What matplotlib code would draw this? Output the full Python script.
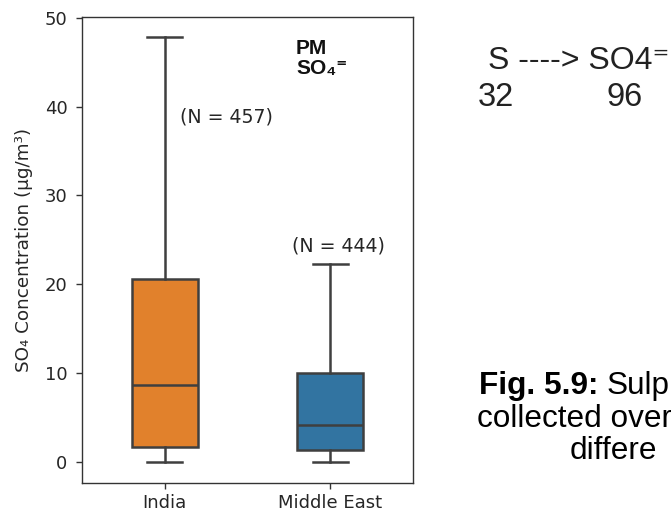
import matplotlib
matplotlib.use("Agg")
import matplotlib.pyplot as plt

categories = ["India", "Middle East"]
whislo = [0.0, 0.0]
q1 = [1.6, 1.3]
med = [8.6, 4.15]
q3 = [20.6, 10.0]
whishi = [47.9, 22.3]
counts = ["(N = 457)", "(N = 444)"]
colors = ["#e1812c", "#3274a1"]

fig = plt.figure(figsize=(6.71, 5.15), dpi=100)
ax = fig.add_axes([82/671, 1-483/515, (413-82)/671, (483-17)/515])

stats = []
for i, c in enumerate(categories):
    stats.append(dict(label=c, whislo=whislo[i], q1=q1[i], med=med[i],
                      q3=q3[i], whishi=whishi[i], fliers=[]))
lc = "#3f3f3f"
lw = 1.8
bp = ax.bxp(stats, positions=[0, 1], widths=0.4, patch_artist=True,
            showfliers=False,
            boxprops=dict(edgecolor=lc, linewidth=lw),
            medianprops=dict(color=lc, linewidth=lw),
            whiskerprops=dict(color=lc, linewidth=lw),
            capprops=dict(color=lc, linewidth=lw),
            capwidths=0.21)
for patch, col in zip(bp["boxes"], colors):
    patch.set_facecolor(col)

ax.set_xlim(-0.5, 1.5)
ax.set_ylim(-2.4, 50.1)
ax.set_yticks([0, 10, 20, 30, 40, 50])
ax.set_xticks([0, 1])
ax.set_xticklabels(categories)
ax.tick_params(labelsize=13, color="#333333", labelcolor="#262626",
               length=4.5, width=1.0)
ax.tick_params(axis="y", pad=6)
for s in ax.spines.values():
    s.set_color("#333333")
    s.set_linewidth(1.0)
ax.set_ylabel("SO\u2084 Concentration (\u00b5g/m\u00b3)", fontsize=13.2, color="#262626")
ax.yaxis.set_label_coords(-0.148, 0.5)

ax.text(0.09, 38.8, counts[0], fontsize=13.7, color="#262626", va="center")
ax.text(0.77, 24.3, counts[1], fontsize=13.7, color="#262626", va="center")

fam = ["Liberation Sans", "DejaVu Sans"]
fig.text(296/671, 1-48.4/515, "PM", fontsize=15, fontweight="bold",
         family=fam, va="center", ha="left", color="#111111")
fig.text(296/671, 1-68.8/515, "SO\u2084\u207c", fontsize=15, fontweight="bold",
         family=fam, va="center", ha="left", color="#111111")

fig.text(488/671, 1-61/515, "S ----> SO4\u207c", fontsize=23.0, family=fam,
         va="center", ha="left", color="#222222")
fig.text(478/671, 1-98/515, "32", fontsize=23.5, family=fam,
         va="center", ha="left", color="#222222")
fig.text(607/671, 1-98/515, "96", fontsize=23.5, family=fam,
         va="center", ha="left", color="#222222")

fig.text(479/671, 1-386/515, "Fig. 5.9:", fontsize=22.7, family=fam,
         fontweight="bold", va="center", ha="left")
fig.text(607/671, 1-386/515, "Sulp", fontsize=22.7, family=fam,
         va="center", ha="left")
fig.text(477/671, 1-419/515, "collected over", fontsize=22.7, family=fam,
         va="center", ha="left")
fig.text(570/671, 1-451/515, "differe", fontsize=22.7, family=fam,
         va="center", ha="left")

fig.savefig("out.png", dpi=100)
